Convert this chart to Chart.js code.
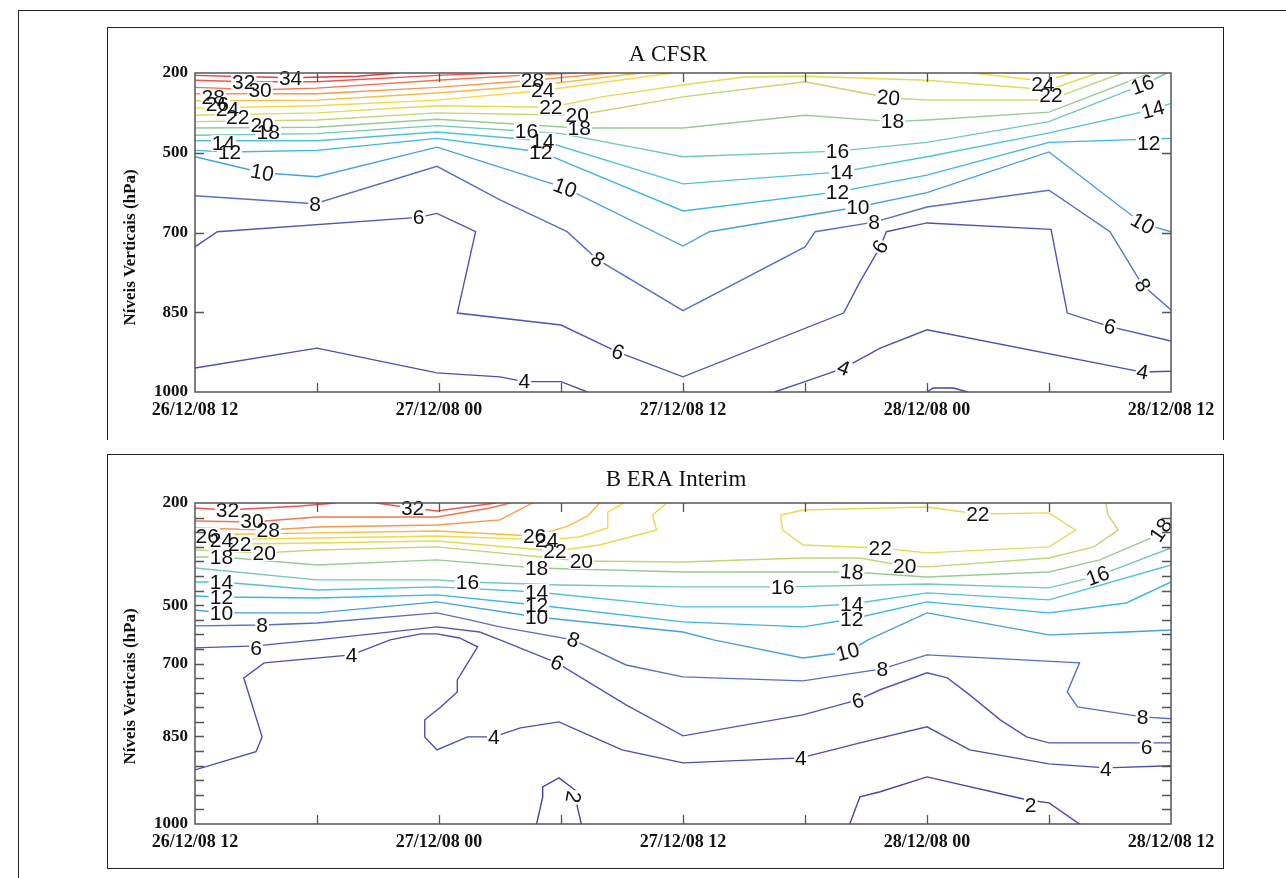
<!DOCTYPE html>
<html>
<head>
<meta charset="utf-8">
<script src="https://cdn.jsdelivr.net/npm/chart.js@4.4.1/dist/chart.umd.min.js"></script>
<style>
  html, body { margin: 0; padding: 0; background: #fff; }
  body { width: 1286px; height: 878px; position: relative; overflow: hidden; }
  .frame { position: absolute; border: 1.5px solid #222; box-sizing: border-box; }
  .panel { position: absolute; }
</style>
</head>
<body>
<div class="frame" style="left:18px;top:10px;width:1300px;height:900px;border-right:none;border-bottom:none;"></div>
<div class="frame" style="left:107px;top:27px;width:1117px;height:413px;border-bottom:none;"></div>
<div class="frame" style="left:107px;top:454px;width:1117px;height:415px;"></div>
<div class="panel" style="left:108px;top:28px;width:1115px;height:410px;"><canvas id="chartA"></canvas></div>
<div class="panel" style="left:108px;top:455px;width:1115px;height:412px;"><canvas id="chartB"></canvas></div>
<script>
// time axis: hours after 26/12/08 12 UTC
const xTickLabels = ['26/12/08 12', '27/12/08 00', '27/12/08 12', '28/12/08 00', '28/12/08 12'];
const yTickLabels = ['200', '500', '700', '850', '1000'];
// position of the labelled levels on each panel's level axis
const yTickPosA = [0, 1, 2, 3, 4];
const yTickPosB = [0, 7, 11, 16, 22];

// contour lines: [value, [[hour, level position], ...]]
const cfsrContours = [
  [34, [[0,0.03],[4.7,0.06],[8,0.04],[10,0]]],
  [32, [[0,0.09],[2.4,0.11],[6,0.11],[11.9,0.03],[15,0]]],
  [30, [[0,0.18],[3.2,0.21],[6,0.19],[11.9,0.09],[16,0.03],[18.8,0]]],
  [28, [[0,0.26],[6,0.26],[11.9,0.18],[16.6,0.09],[20.4,0]]],
  [26, [[0,0.35],[6,0.34],[11.9,0.25],[17,0.15],[21.9,0]]],
  [24, [[0,0.44],[6,0.41],[11.9,0.34],[17.1,0.22],[23.5,0]]],
  [24, [[38.3,0],[41.7,0.1],[43.2,0]]],
  [22, [[0,0.53],[6,0.5],[11.9,0.41],[17.5,0.43],[20,0.3],[24,0.15],[27,0.05],[30,0.04],[36,0.09],[42,0.21],[44.4,0]]],
  [20, [[0,0.61],[6,0.59],[11.9,0.5],[18.8,0.53],[24,0.3],[30,0.11],[34.1,0.31],[36,0.34],[42,0.34],[45.6,0]]],
  [18, [[0,0.69],[6,0.68],[11.9,0.58],[18.9,0.69],[24,0.69],[30,0.53],[34.3,0.61],[36,0.59],[42,0.49],[47,0]]],
  [16, [[0,0.78],[6,0.76],[11.9,0.66],[16.3,0.73],[18,0.76],[24,1.05],[31.6,0.98],[36,0.87],[42,0.61],[46.6,0.15],[47.8,0]]],
  [14, [[0,0.85],[6,0.85],[11.9,0.74],[17.1,0.85],[24,1.39],[31.8,1.24],[36,1.05],[42,0.75],[47.1,0.46],[48,0.38]]],
  [12, [[0,0.97],[1.7,0.99],[6,0.97],[11.9,0.82],[17,0.99],[24,1.73],[31.6,1.49],[36,1.28],[42,0.87],[48,0.82]]],
  [10, [[0,1.05],[3.3,1.25],[6,1.3],[11.9,0.93],[18.2,1.44],[24,2.17],[25.3,1.99],[32.6,1.68],[36,1.5],[42,0.99],[46.6,1.89],[48,1.99]]],
  [8, [[0,1.54],[5.9,1.64],[11.9,1.17],[15,1.59],[18.3,1.99],[19.8,2.34],[24,2.98],[30,2.18],[30.5,1.99],[33.4,1.87],[36,1.68],[42,1.47],[45,1.99],[46.6,2.66],[48,2.97]]],
  [6, [[0,2.18],[1.1,1.99],[11,1.81],[11.9,1.76],[13.8,1.99],[12.9,3.01],[18,3.16],[20.8,3.5],[24,3.81],[31.9,3.01],[32.7,2.62],[33.7,2.18],[34,1.99],[36,1.88],[42.1,1.96],[42.9,3.01],[45,3.18],[48,3.36]]],
  [4, [[0,3.7],[6,3.45],[11.9,3.76],[15,3.81],[16.2,3.87],[18,3.87],[19.3,4]]],
  [4, [[28.5,4],[30,3.87],[31.9,3.7],[33.7,3.45],[36,3.22],[46.6,3.75],[48,3.74]]],
  [2, [[36,4],[36.3,3.95],[37.3,3.95],[38,4]]]
];

const eraContours = [
  [32, [[0,0.34],[1.6,0.48],[5.2,0.21],[6.9,0]]],
  [32, [[8.9,0],[10.7,0.34],[11.9,0.55],[14.8,0]]],
  [30, [[0,1.23],[2.8,1.3],[6,0.96],[11.9,0.96],[14.5,0.34],[15.5,0]]],
  [28, [[0,1.71],[3.6,1.85],[6,1.64],[11.9,1.51],[15,1.16],[16.6,0]]],
  [26, [[0,2.19],[6,2.05],[11.9,1.92],[16.7,2.26],[18.3,1.6],[19.3,0.9],[19.9,0]]],
  [24, [[0,2.53],[6,2.4],[11.9,2.26],[17.3,2.53],[18.9,2.33],[20.3,1.71],[20.3,0.62],[21.1,0]]],
  [22, [[0,2.74],[2.2,2.81],[6,2.74],[11.9,2.6],[17.7,3.29],[19.9,2.88],[22.7,1.85],[22.5,0.82],[23.2,0]]],
  [22, [[28.9,1.85],[28.8,0.82],[29.9,0.48],[36,0.27],[38.5,0.75],[42,0.68],[43.3,1.85],[42,3.01],[36,3.42],[33.7,3.08],[29.9,2.88],[28.9,1.85]]],
  [20, [[0,3.22],[3.4,3.42],[6,3.22],[11.9,3.01],[19,3.97],[24,4.04],[29.9,3.77],[32.7,3.77],[34.9,4.32],[36,4.38],[42,3.77],[44.2,3.01],[45.4,1.85],[44.9,0.82],[44.8,0]]],
  [18, [[0,3.7],[1.3,3.7],[6,4.25],[11.9,3.9],[16.8,4.45],[24,4.73],[32.3,4.73],[36,5.07],[42,4.73],[44.5,3.9],[47,2.4],[48,1.37]]],
  [16, [[0,4.45],[6,5.27],[11.9,5.27],[13.4,5.41],[18,5.62],[24,5.75],[28.9,5.75],[36,5.55],[42,5.82],[44.4,5.0],[48,3.08]]],
  [14, [[0,5.41],[1.3,5.41],[6,5.96],[11.9,5.75],[16.8,6.1],[24,7.12],[29.9,7.12],[32.3,6.92],[36,6.16],[42,6.64],[48,4.25]]],
  [12, [[0,6.37],[1.3,6.44],[6,6.51],[11.9,6.3],[16.8,6.99],[24,8.15],[29.9,8.49],[32.3,7.95],[36,6.78],[42,7.53],[45.8,6.85],[48,5.41]]],
  [10, [[0,7.33],[1.3,7.53],[6,7.53],[11.9,6.78],[16.8,7.81],[24,8.84],[25.5,9.38],[29.9,10.62],[32.1,10.21],[33.1,9.38],[36,7.53],[42,9.04],[45.8,8.84],[48,8.7]]],
  [8, [[0,8.42],[3.3,8.36],[6,8.22],[11.9,7.53],[13.5,8.01],[15,8.49],[18.6,9.38],[21.2,11.1],[24,11.92],[29.9,12.19],[33.8,11.37],[36,10.41],[43.5,10.96],[42.9,12.95],[43.4,13.97],[46.6,14.66],[48,14.79]]],
  [6, [[0,9.93],[3,9.79],[6,9.38],[11.9,8.49],[14,8.84],[15,9.38],[17.8,10.96],[21.2,13.84],[24,15.96],[29.9,14.52],[32.6,13.49],[33.7,12.8],[36,11.64],[37,11.99],[38.1,13.15],[39.6,14.86],[40.9,16.03],[42,16.44],[48,16.44]]],
  [4, [[0,18.29],[3,17.05],[3.3,16.03],[2.4,11.99],[3.4,10.96],[7.7,10.41],[9.6,9.38],[11.1,8.97],[11.9,8.97],[13,9.25],[13.9,9.86],[12.9,12.12],[12.9,12.95],[12.1,13.97],[11.3,14.86],[11.3,16.03],[11.9,16.92],[13.4,16.03],[14.7,16.03],[16,15.41],[17.9,15.0],[21,16.92],[24,17.81],[29.8,17.47],[32.7,16.44],[36,15.34],[38.1,16.92],[42,17.88],[44.8,18.15],[48,18.01]]],
  [2, [[16.8,22],[17.1,20.14],[17.1,19.45],[17.9,18.84],[18.8,19.79],[18.8,20.82],[19,22]]],
  [2, [[32.2,22],[32.7,20.14],[33.7,19.79],[36,18.77],[40.9,20.34],[42,20.55],[43.5,22]]]
];

// inline contour labels: [text, hour, level position, rotation deg]
const cfsrLabels = [
  ['34',4.7,0.06],['32',2.4,0.11],['30',3.2,0.21],['28',0.9,0.3],['26',1.1,0.39],['24',1.6,0.46],['22',2.1,0.56],
  ['20',3.3,0.66],['18',3.6,0.74],['14',1.4,0.88],['12',1.7,0.99],['10',3.3,1.25,10],['8',5.9,1.64],['6',11,1.81],
  ['28',16.6,0.09],['24',17.1,0.22],['22',17.5,0.43],['20',18.8,0.53],['18',18.9,0.69],['16',16.3,0.73],['14',17.1,0.85],
  ['12',17,0.99],['10',18.2,1.44,20],['8',19.8,2.34,35],['6',20.8,3.5,20],['4',16.2,3.87],
  ['20',34.1,0.31,5],['18',34.3,0.61],['16',31.6,0.98],['14',31.8,1.24],['12',31.6,1.49],['10',32.6,1.68],['8',33.4,1.87],
  ['6',33.7,2.18,-60],['4',31.9,3.7,20],['24',41.7,0.14],['22',42.1,0.28],['16',46.6,0.15,-20],['14',47.1,0.46,-15],
  ['12',46.9,0.88],['10',46.6,1.89,30],['8',46.6,2.66,60],['6',45,3.18,15],['4',46.6,3.75,10]
];

const eraLabels = [
  ['32',1.6,0.48],['30',2.8,1.23],['28',3.6,1.85],['26',0.6,2.26],['24',1.3,2.53],['22',2.2,2.81],['20',3.4,3.42],
  ['18',1.3,3.7],['14',1.3,5.41],['12',1.3,6.44],['10',1.3,7.53],['8',3.3,8.36],['6',3,9.93],['4',7.7,10.41],
  ['32',10.7,0.34],['16',13.4,5.41],['26',16.7,2.26],['24',17.3,2.53],['22',17.7,3.29],['20',19,3.97],['18',16.8,4.45],
  ['14',16.8,6.1],['12',16.8,6.99],['10',16.8,7.81],['8',18.6,9.38,20],['6',17.8,10.96,25],['4',14.7,16.03],['2',18.6,20.14,100],
  ['16',28.9,5.75],['22',38.5,0.75],['22',33.7,3.08],['20',34.9,4.32],['18',32.3,4.73,5],['14',32.3,6.92],['12',32.3,7.95],
  ['10',32.1,10.21,-15],['8',33.8,11.37],['6',32.6,13.56,-15],['4',29.8,17.47],['2',41.1,20.68],
  ['18',47.5,1.85,-55],['16',44.4,5.0,-20],['8',46.6,14.66],['6',46.8,16.71],['4',44.8,18.22]
];

const lineColors = {
  2: '#4545a5', 4: '#4c4fab', 6: '#5056b2', 8: '#5670c4', 10: '#45a2dc', 12: '#3cb6e6',
  14: '#4fc3d6', 16: '#74c8b6', 18: '#9acb94', 20: '#c2d674', 22: '#e2dc52', 24: '#f6d843',
  26: '#f7bb44', 28: '#f4994a', 30: '#f27450', 32: '#ee5454', 34: '#e23a3a'
};

Chart.defaults.font.family = '"Liberation Serif", serif';
Chart.defaults.color = '#111';

// frame, inward ticks, contour labels and titles
const panelDecor = {
  id: 'panelDecor',
  afterDatasetsDraw(chart, args, opts) {
    const { ctx, chartArea: a, scales: { x, y } } = chart;
    ctx.save();

    // contour labels: white patches first, then text
    ctx.font = '21px "Liberation Sans", Arial, sans-serif';
    ctx.textAlign = 'center';
    ctx.textBaseline = 'middle';
    const items = opts.labels.map(l => ({
      t: l[0], px: x.getPixelForValue(l[1]), py: y.getPixelForValue(l[2]), r: (l[3] || 0) * Math.PI / 180
    }));
    items.forEach(it => {
      const w = ctx.measureText(it.t).width;
      ctx.save();
      ctx.translate(it.px, it.py);
      ctx.rotate(it.r);
      ctx.fillStyle = '#fff';
      ctx.fillRect(-w / 2 - 1, -8, w + 2, 16);
      ctx.restore();
    });
    items.forEach(it => {
      ctx.save();
      ctx.translate(it.px, it.py);
      ctx.rotate(it.r);
      ctx.fillStyle = '#111';
      ctx.fillText(it.t, 0, 1);
      ctx.restore();
    });

    // plot frame
    ctx.strokeStyle = '#555';
    ctx.lineWidth = 1.5;
    ctx.strokeRect(a.left, a.top, a.width, a.height);

    // inward tick marks
    ctx.lineWidth = 1.3;
    ctx.beginPath();
    x.ticks.forEach(t => {
      if (t.value <= x.min || t.value >= x.max) return;
      const px = Math.round(x.getPixelForValue(t.value)) + 0.5;
      ctx.moveTo(px, a.bottom); ctx.lineTo(px, a.bottom - 9);
      ctx.moveTo(px, a.top); ctx.lineTo(px, a.top + 9);
    });
    y.ticks.forEach(t => {
      if (t.value <= y.min || t.value >= y.max) return;
      const py = Math.round(y.getPixelForValue(t.value)) + 0.5;
      ctx.moveTo(a.left, py); ctx.lineTo(a.left + 9, py);
      ctx.moveTo(a.right, py); ctx.lineTo(a.right - 9, py);
    });
    ctx.stroke();

    // panel title
    ctx.fillStyle = '#111';
    ctx.font = '23px "Liberation Serif", serif';
    ctx.textAlign = 'center';
    ctx.fillText(opts.title, (a.left + a.right) / 2 + opts.titleDx, a.top - opts.titleDy);

    // vertical axis title
    ctx.font = 'bold 17px "Liberation Serif", serif';
    ctx.translate(23, (a.top + a.bottom) / 2 + opts.yTitleDy);
    ctx.rotate(-Math.PI / 2);
    ctx.fillText('Níveis Verticais (hPa)', 0, 0);
    ctx.restore();
  }
};

function makePanel(id, contours, labels, yMax, yTickPos, title, padTop, xHeight, titleDx, titleDy, yTitleDy) {
  const datasets = contours.map(([level, pts]) => ({
    data: pts.map(([h, v]) => ({ x: h, y: v })),
    borderColor: lineColors[level],
    borderWidth: 1.4,
    pointRadius: 0,
    tension: 0,
    fill: false
  }));

  return new Chart(document.getElementById(id), {
    type: 'line',
    data: { datasets: datasets },
    options: {
      responsive: true,
      maintainAspectRatio: false,
      animation: false,
      events: [],
      layout: { padding: { left: 0, top: padTop, right: 52, bottom: 0 } },
      plugins: {
        legend: { display: false },
        tooltip: { enabled: false },
        panelDecor: { labels: labels, title: title, titleDx: titleDx, titleDy: titleDy, yTitleDy: yTitleDy }
      },
      scales: {
        x: {
          type: 'linear',
          min: 0,
          max: 48,
          grid: { display: false, drawTicks: false },
          border: { display: false },
          ticks: {
            stepSize: 6,
            autoSkip: false,
            maxRotation: 0,
            padding: 8,
            font: { size: 18, weight: 'bold' },
            callback: v => (v % 12 === 0 ? xTickLabels[v / 12] : '')
          },
          afterFit: s => { s.height = xHeight; }
        },
        y: {
          type: 'linear',
          min: 0,
          max: yMax,
          reverse: true,
          grid: { display: false, drawTicks: false },
          border: { display: false },
          ticks: {
            stepSize: 1,
            autoSkip: false,
            padding: 7,
            font: { size: 17, weight: 'bold' },
            callback: v => {
              const i = yTickPos.indexOf(v);
              return i >= 0 ? yTickLabels[i] : '';
            }
          },
          afterFit: s => { s.width = 87; }
        }
      }
    },
    plugins: [panelDecor]
  });
}

makePanel('chartA', cfsrContours, cfsrLabels, 4, yTickPosA, 'A CFSR', 45, 46, -15, 18, 15);
makePanel('chartB', eraContours, eraLabels, 22, yTickPosB, 'B ERA Interim', 48, 43, -7, 23, 23);
</script>
</body>
</html>
